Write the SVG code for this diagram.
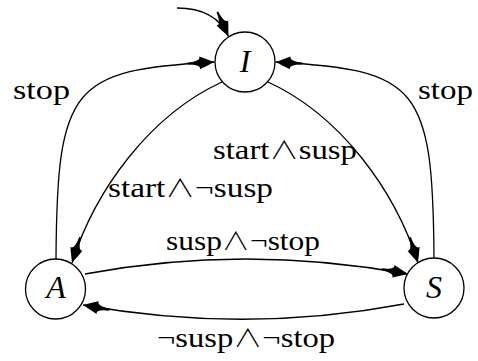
<svg xmlns="http://www.w3.org/2000/svg" width="478" height="361" viewBox="0 0 478 361">
<style>
.node circle{fill:#fff;stroke:#000;stroke-width:1.3}
.node text{font-family:"Liberation Serif",serif;font-style:italic;font-size:32px;text-anchor:middle;fill:#000}
.edge{fill:none;stroke:#000;stroke-width:1.3;marker-end:url(#arr)}
.lbl{font-family:"Liberation Serif",serif;font-size:28px;fill:#000}
.op{font-family:"Noto Sans CJK JP","Liberation Serif",serif;font-weight:300;font-size:25px}
</style>
<defs>
<marker id="arr" markerUnits="userSpaceOnUse" viewBox="-30 -8 32 16" refX="0" refY="0" markerWidth="32" markerHeight="16" orient="auto" overflow="visible">
<path d="M0,0 C-5,-2 -10,-4.6 -15,-6.4 Q-13,-1.8 -27,-0.9 L-27,0.9 Q-13,1.8 -15,6.4 C-10,4.6 -5,2 0,0 Z" fill="#000"/>
</marker>
</defs>
<g id="connectors">
<path class="edge" d="M177,8 C205,8 221,20 228.5,36.5"/>
<path class="edge" d="M56,259 C57,85 72,70 214.5,62"/>
<path class="edge" d="M434,259 C433,85 418,70 275.5,62"/>
<path class="edge" d="M222,82 C150,115 95,190 72,263"/>
<path class="edge" d="M268,82 C340,115 395,190 418,263"/>
<path class="edge" d="M85,274 Q245,244 408,274"/>
<path class="edge" d="M404,304 Q245,334 83,305"/>
</g>
<g id="labels">
<text class="lbl" x="13" y="99" textLength="57" lengthAdjust="spacingAndGlyphs">stop</text>
<text class="lbl" x="418" y="99" textLength="55" lengthAdjust="spacingAndGlyphs">stop</text>
<text class="lbl" x="213" y="159" textLength="144" lengthAdjust="spacingAndGlyphs">start<tspan class="op">∧</tspan>susp</text>
<text class="lbl" x="108" y="197" textLength="165" lengthAdjust="spacingAndGlyphs">start<tspan class="op">∧</tspan>¬susp</text>
<text class="lbl" x="166" y="250" textLength="154" lengthAdjust="spacingAndGlyphs">susp<tspan class="op">∧</tspan>¬stop</text>
<text class="lbl" x="157" y="347" textLength="178" lengthAdjust="spacingAndGlyphs">¬susp<tspan class="op">∧</tspan>¬stop</text>
</g>
<g id="node-I" class="node"><circle cx="245" cy="62" r="30"/><text x="245" y="72">I</text></g>
<g id="node-A" class="node"><circle cx="55.5" cy="289" r="30"/><text x="56" y="298">A</text></g>
<g id="node-S" class="node"><circle cx="434" cy="288" r="30"/><text x="434" y="298">S</text></g>
</svg>
